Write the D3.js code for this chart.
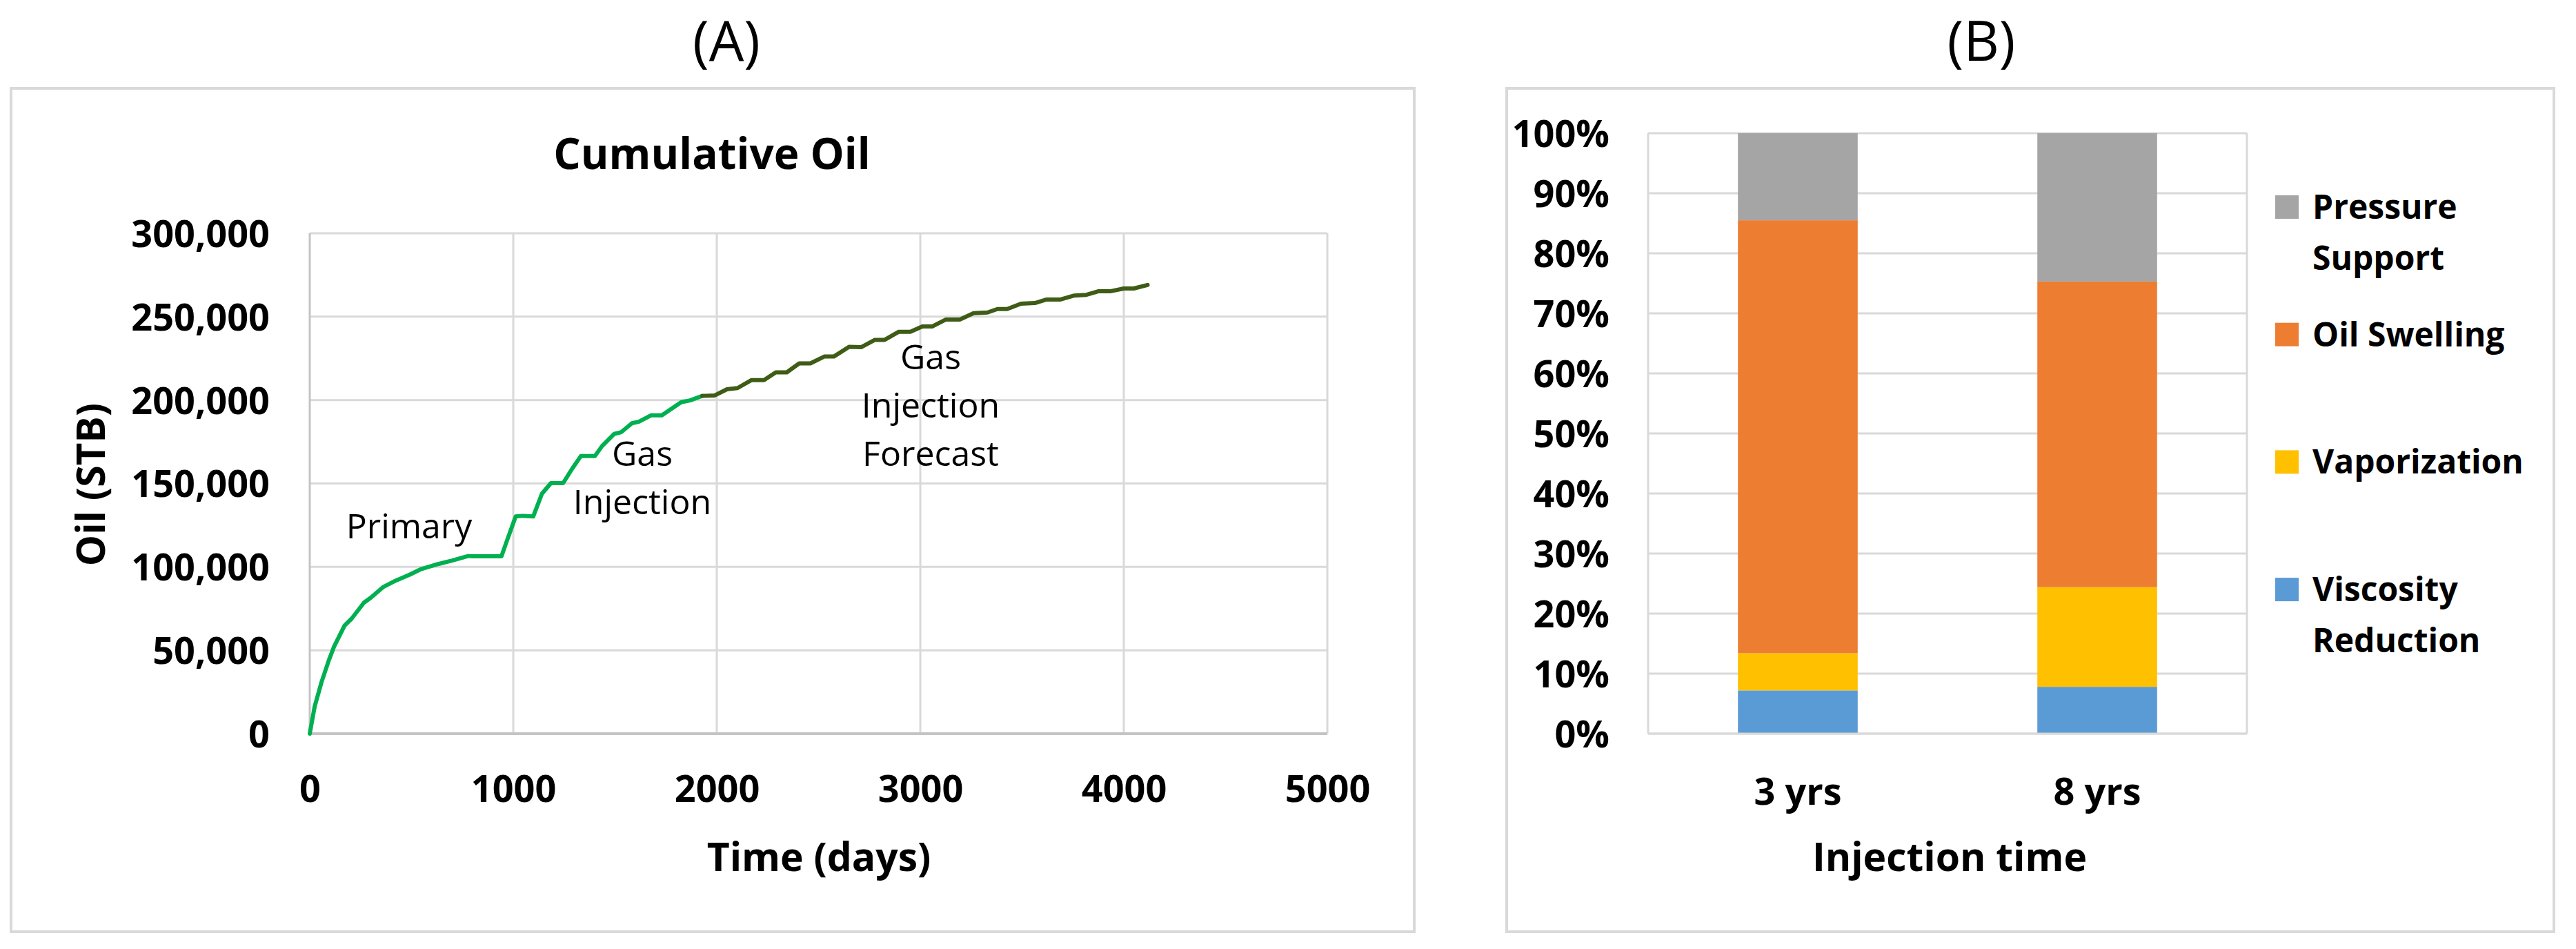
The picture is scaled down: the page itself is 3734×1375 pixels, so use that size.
<!DOCTYPE html>
<html><head><meta charset="utf-8">
<script src="https://cdn.jsdelivr.net/npm/d3@7"></script>
<style>
body{margin:0;background:#fff}
svg{display:block}
text{font-family:"Open Sans",sans-serif;fill:#000}
</style>
</head><body>
<svg id="c" width="3734" height="1375"></svg>
<script>
// ---------- Panel A data (Cumulative Oil) ----------
const historyDays = [0,24,58,93,119,171,206,266,301,362,423,492,544,631,700,778,804,942,968,1012,1046,1098,1141,1185,1245,1288,1332,1401,1436,1496,1531,1583,1618,1678,1730,1825,1869,1929];
const historyOil  = [0,16200,31000,43700,52100,64800,69000,78500,81600,88000,91800,95400,98500,101700,103800,106500,106300,106300,115400,130200,130600,130200,143900,150200,150200,158600,166400,166400,172400,179700,180800,186100,187100,190900,190900,198700,199800,202500];
const forecastDays = [1929,1990,2050,2102,2171,2232,2290,2344,2405,2460,2528,2575,2650,2709,2777,2825,2893,2951,3010,3058,3126,3194,3262,3330,3379,3427,3495,3563,3621,3689,3757,3816,3874,3932,4000,4049,4117];
const forecastOil  = [202500,202800,206500,207200,212000,212000,216600,216600,222000,222000,226100,226100,231900,231700,236100,236100,240900,240900,244100,244100,248300,248300,252100,252500,254600,254600,257800,258200,260300,260300,262700,263100,265200,265200,266900,266900,269000];
const xTicksA = [0,1000,2000,3000,4000,5000];
const yTicksA = [0,50000,100000,150000,200000,250000,300000];
const titleA = "Cumulative Oil";
const xTitleA = "Time (days)";
const yTitleA = "Oil (STB)";
const annoPrimary = ["Primary"];
const annoGas = ["Gas","Injection"];
const annoForecast = ["Gas","Injection","Forecast"];

// ---------- Panel B data (mechanisms) ----------
const categories = ["3 yrs","8 yrs"];
const mechanisms = ["Viscosity Reduction","Vaporization","Oil Swelling","Pressure Support"];
const viscosityReduction = [7.2, 7.8];
const vaporization = [6.2, 16.6];
const oilSwelling = [72.1, 50.9];
const pressureSupport = [14.5, 24.7];
const yTicksB = [0,10,20,30,40,50,60,70,80,90,100];
const xTitleB = "Injection time";
const legendLines = {"Pressure Support":["Pressure","Support"],"Oil Swelling":["Oil Swelling"],"Vaporization":["Vaporization"],"Viscosity Reduction":["Viscosity","Reduction"]};

// ---------- styles ----------
const colGrid = "#d9d9d9", colAxis = "#c4c4c4", colFrame = "#d9d9d9";
const colors = {"Viscosity Reduction":"#5B9BD5","Vaporization":"#FFC000","Oil Swelling":"#ED7D31","Pressure Support":"#A5A5A5"};
const tickFont = 54, axisTitleFont = 57;

const svg = d3.select("#c");

// ---------- Panel A ----------
const A = {x:16, y:128, w:2034, h:1222};
svg.append("rect").attr("x",A.x).attr("y",A.y).attr("width",A.w).attr("height",A.h)
  .attr("fill","#fff").attr("stroke",colFrame).attr("stroke-width",4);
svg.append("text").attr("x",1053).attr("y",88).attr("text-anchor","middle")
  .attr("font-size",80).text("(A)");
svg.append("text").attr("x",1032).attr("y",245).attr("text-anchor","middle")
  .attr("font-size",62).attr("font-weight","bold").text(titleA);

const xA = d3.scaleLinear().domain([0,5000]).range([449,1924]);
const yA = d3.scaleLinear().domain([0,300000]).range([1063,338]);
const gA = svg.append("g");
// grid
gA.selectAll("line.hg").data(yTicksA.slice(1)).join("line")
  .attr("x1",xA(0)).attr("x2",xA(5000)).attr("y1",d=>yA(d)).attr("y2",d=>yA(d))
  .attr("stroke",colGrid).attr("stroke-width",3);
gA.selectAll("line.vg").data(xTicksA.slice(1)).join("line")
  .attr("y1",yA(0)).attr("y2",yA(300000)).attr("x1",d=>xA(d)).attr("x2",d=>xA(d))
  .attr("stroke",colGrid).attr("stroke-width",3);
// axes lines
gA.append("line").attr("x1",xA(0)).attr("x2",xA(5000)).attr("y1",yA(0)).attr("y2",yA(0))
  .attr("stroke",colAxis).attr("stroke-width",4);
gA.append("line").attr("x1",xA(0)).attr("x2",xA(0)).attr("y1",yA(0)).attr("y2",yA(300000))
  .attr("stroke",colAxis).attr("stroke-width",3);
// axes via d3
const axXA = d3.axisBottom(xA).tickValues(xTicksA).tickSize(0).tickPadding(0).tickFormat(d3.format("d"));
const gxA = gA.append("g").attr("transform","translate(0,1162)").call(axXA);
gxA.select(".domain").remove();
gxA.selectAll("text").attr("font-size",tickFont).attr("font-weight","bold").attr("dy",0).attr("y",0)
  .attr("font-family","Open Sans").attr("fill","#000");
const axYA = d3.axisLeft(yA).tickValues(yTicksA).tickSize(0).tickPadding(0).tickFormat(d3.format(","));
const gyA = gA.append("g").attr("transform","translate(391,0)").call(axYA);
gyA.select(".domain").remove();
gyA.selectAll("text").attr("font-size",tickFont).attr("font-weight","bold").attr("dy","0.36em")
  .attr("font-family","Open Sans").attr("fill","#000");
// axis titles
gA.append("text").attr("x",1187).attr("y",1262).attr("text-anchor","middle")
  .attr("font-size",axisTitleFont).attr("font-weight","bold").text(xTitleA);
gA.append("text").attr("transform","translate(152,702) rotate(-90)").attr("text-anchor","middle")
  .attr("font-size",axisTitleFont).attr("font-weight","bold").text(yTitleA);
// lines
const lineA = d3.line().x(d=>xA(d[0])).y(d=>yA(d[1]));
gA.append("path").datum(historyDays.map((d,i)=>[d,historyOil[i]]))
  .attr("d",lineA).attr("fill","none").attr("stroke","#00B050").attr("stroke-width",6)
  .attr("stroke-linejoin","round").attr("stroke-linecap","round");
gA.append("path").datum(forecastDays.map((d,i)=>[d,forecastOil[i]]))
  .attr("d",lineA).attr("fill","none").attr("stroke","#3F5C16").attr("stroke-width",6)
  .attr("stroke-linejoin","round").attr("stroke-linecap","round");
// annotations
function multi(lines,x,y0,lh){
  const t = gA.append("text").attr("text-anchor","middle").attr("font-size",50).attr("fill","#222");
  lines.forEach((s,i)=>t.append("tspan").attr("x",x).attr("y",y0+i*lh).text(s));
}
multi(annoPrimary,593,780,70);
multi(annoGas,931,675,70);
multi(annoForecast,1349,535,70);

// ---------- Panel B ----------
const B = {x:2184, y:128, w:1518, h:1222};
svg.append("rect").attr("x",B.x).attr("y",B.y).attr("width",B.w).attr("height",B.h)
  .attr("fill","#fff").attr("stroke",colFrame).attr("stroke-width",4);
svg.append("text").attr("x",2872).attr("y",88).attr("text-anchor","middle")
  .attr("font-size",80).text("(B)");

const xB = d3.scaleBand().domain(categories).range([2389,3257]).paddingInner(0.6).paddingOuter(0.3);
const yB = d3.scaleLinear().domain([0,100]).range([1063,193]);
const gB = svg.append("g");
gB.selectAll("line.hg").data(yTicksB).join("line")
  .attr("x1",2389).attr("x2",3257).attr("y1",d=>yB(d)).attr("y2",d=>yB(d))
  .attr("stroke",colGrid).attr("stroke-width",3);
gB.append("line").attr("x1",2389).attr("x2",2389).attr("y1",yB(0)).attr("y2",yB(100)).attr("stroke",colGrid).attr("stroke-width",3);
gB.append("line").attr("x1",3257).attr("x2",3257).attr("y1",yB(0)).attr("y2",yB(100)).attr("stroke",colGrid).attr("stroke-width",3);

const rows = categories.map((c,i)=>({cat:c,"Viscosity Reduction":viscosityReduction[i],"Vaporization":vaporization[i],"Oil Swelling":oilSwelling[i],"Pressure Support":pressureSupport[i]}));
const stacked = d3.stack().keys(mechanisms)(rows);
gB.selectAll("g.s").data(stacked).join("g").attr("fill",d=>colors[d.key])
  .selectAll("rect").data(d=>d).join("rect")
  .attr("x",d=>xB(d.data.cat)).attr("width",xB.bandwidth())
  .attr("y",d=>yB(d[1])).attr("height",d=>yB(d[0])-yB(d[1]));
gB.append("line").attr("x1",2389).attr("x2",3257).attr("y1",yB(0)).attr("y2",yB(0)).attr("stroke",colGrid).attr("stroke-width",3);

const axXB = d3.axisBottom(xB).tickSize(0).tickPadding(0);
const gxB = gB.append("g").attr("transform","translate(0,1166)").call(axXB);
gxB.select(".domain").remove();
gxB.selectAll("text").attr("font-size",tickFont).attr("font-weight","bold").attr("dy",0).attr("y",0)
  .attr("font-family","Open Sans").attr("fill","#000");
const axYB = d3.axisLeft(yB).tickValues(yTicksB).tickSize(0).tickPadding(0).tickFormat(d=>d+"%");
const gyB = gB.append("g").attr("transform","translate(2333,0)").call(axYB);
gyB.select(".domain").remove();
gyB.selectAll("text").attr("font-size",tickFont).attr("font-weight","bold").attr("dy","0.36em")
  .attr("font-family","Open Sans").attr("fill","#000");
gB.append("text").attr("x",2826).attr("y",1262).attr("text-anchor","middle")
  .attr("font-size",axisTitleFont).attr("font-weight","bold").text(xTitleB);

// legend (top to bottom: reverse stack order)
const legendOrder = mechanisms.slice().reverse();
const lg = gB.append("g");
legendOrder.forEach((k,i)=>{
  const cy = 300 + i*184.7;
  lg.append("rect").attr("x",3298).attr("y",cy-17).attr("width",34).attr("height",34).attr("fill",colors[k]);
  const t = lg.append("text").attr("font-size",48).attr("font-weight","bold");
  legendLines[k].forEach((s,j)=>t.append("tspan").attr("x",3352).attr("y",cy+17+j*74).text(s));
});
</script>
</body></html>
